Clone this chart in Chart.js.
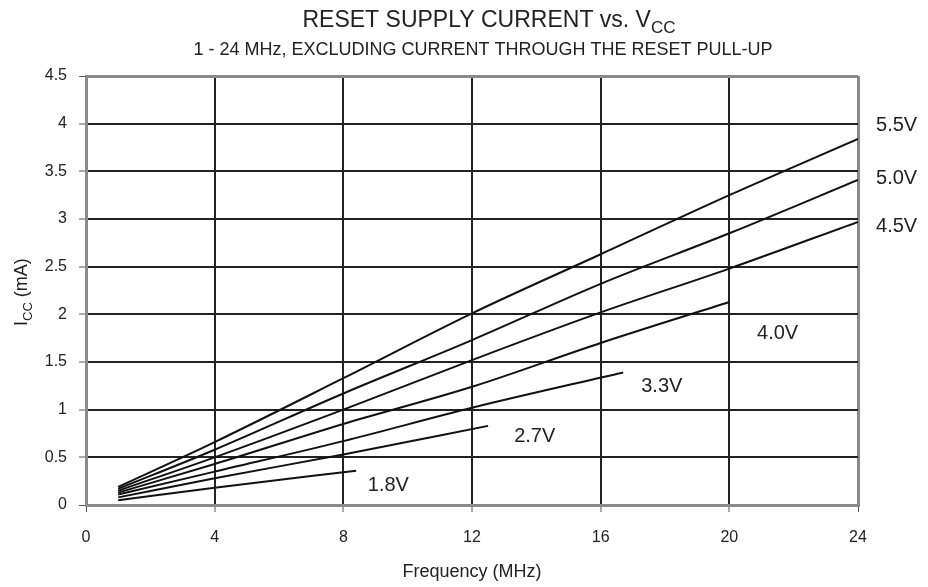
<!DOCTYPE html>
<html>
<head>
<meta charset="utf-8">
<script src="https://cdn.jsdelivr.net/npm/chart.js@4/dist/chart.umd.min.js"></script>
<style>
  html, body { margin: 0; padding: 0; background: #fff; }
  #wrap { width: 928px; height: 587px; position: relative; }
</style>
</head>
<body>
<div id="wrap"><canvas id="icc"></canvas></div>
<script>
// supply voltage curves: frequency (MHz) and current (mA)
const vccLabels = ["5.5V", "5.0V", "4.5V", "4.0V", "3.3V", "2.7V", "1.8V"];

const freq55 = [1, 4, 8, 12, 16, 20, 24];
const icc55 = [0.19, 0.66, 1.33, 2.01, 2.63, 3.25, 3.84];
const freq50 = [1, 4, 8, 12, 16, 20, 24];
const icc50 = [0.17, 0.58, 1.17, 1.73, 2.32, 2.85, 3.41];
const freq45 = [1, 4, 8, 12, 16, 20, 24];
const icc45 = [0.15, 0.50, 1.00, 1.52, 2.02, 2.48, 2.97];
const freq40 = [1, 4, 8, 12, 16, 20];
const icc40 = [0.13, 0.43, 0.85, 1.24, 1.70, 2.13];
const freq33 = [1, 4, 8, 12, 16.7];
const icc33 = [0.11, 0.35, 0.67, 1.02, 1.39];
const freq27 = [1, 4, 8, 12.5];
const icc27 = [0.08, 0.28, 0.53, 0.83];
const freq18 = [1, 4, 8.4];
const icc18 = [0.05, 0.18, 0.36];

// where each voltage tag sits, in axis units
const tagFreq = [25.2, 25.2, 25.2, 21.5, 17.9, 13.95, 9.4];
const tagIcc = [3.98, 3.42, 2.92, 1.80, 1.24, 0.72, 0.20];

const xTicks = [0, 4, 8, 12, 16, 20, 24];
const yTicks = [0, 0.5, 1, 1.5, 2, 2.5, 3, 3.5, 4, 4.5];

const curves = [
  [freq55, icc55], [freq50, icc50], [freq45, icc45], [freq40, icc40],
  [freq33, icc33], [freq27, icc27], [freq18, icc18]
];

const FONT = "'Liberation Sans', Arial, sans-serif";

const datasets = curves.map(([f, i], k) => ({
  label: vccLabels[k],
  data: f.map((x, n) => ({ x: x, y: i[n] })),
  borderColor: "#111",
  borderWidth: 2,
  pointRadius: 0,
  showLine: true,
  fill: false,
  cubicInterpolationMode: "monotone"
}));

// text with a trailing subscript, e.g. V + CC
function subText(ctx, main, sub, x, y, size, align) {
  ctx.font = size + "px " + FONT;
  const w1 = ctx.measureText(main).width;
  ctx.font = Math.round(size * 0.72) + "px " + FONT;
  const w2 = ctx.measureText(sub).width;
  let x0 = x;
  if (align === "center") x0 = x - (w1 + w2) / 2;
  ctx.textAlign = "left";
  ctx.textBaseline = "alphabetic";
  ctx.font = size + "px " + FONT;
  ctx.fillText(main, x0, y);
  ctx.font = Math.round(size * 0.72) + "px " + FONT;
  ctx.fillText(sub, x0 + w1, y + size * 0.26);
  return x0 + w1 + w2;
}

const textPlugin = {
  id: "textPlugin",
  afterDraw(chart) {
    const ctx = chart.ctx;
    const xs = chart.scales.x, ys = chart.scales.y;
    ctx.save();
    ctx.fillStyle = "#222";

    // titles
    subText(ctx, "RESET SUPPLY CURRENT vs. V", "CC", 489, 27, 23, "center");
    ctx.font = "18px " + FONT;
    ctx.textAlign = "center";
    ctx.textBaseline = "middle";
    ctx.fillText("1 - 24 MHz, EXCLUDING CURRENT THROUGH THE RESET PULL-UP", 483, 50);

    // axis titles
    ctx.font = "18px " + FONT;
    ctx.fillText("Frequency (MHz)", 472, 572);
    ctx.save();
    ctx.translate(27, 290);
    ctx.rotate(-Math.PI / 2);
    const end = subText(ctx, "I", "CC", -36, 0, 18, "left");
    ctx.font = "18px " + FONT;
    ctx.textAlign = "left";
    ctx.fillText(" (mA)", end, 0);
    ctx.restore();

    // voltage tags
    ctx.font = "20px " + FONT;
    ctx.textAlign = "center";
    ctx.textBaseline = "middle";
    vccLabels.forEach((t, k) => {
      ctx.fillText(t, xs.getPixelForValue(tagFreq[k]), ys.getPixelForValue(tagIcc[k]));
    });
    ctx.restore();
  }
};

const edgeGrid = (edges) => ({
  color: (c) => edges.includes(c.tick && c.tick.value) ? "#8a8a8a" : "#222",
  lineWidth: (c) => edges.includes(c.tick && c.tick.value) ? 3 : 2,
  tickColor: "#555",
  tickWidth: 1,
  tickLength: 7
});

new Chart(document.getElementById("icc"), {
  type: "scatter",
  data: { datasets },
  options: {
    responsive: true,
    maintainAspectRatio: false,
    animation: false,
    devicePixelRatio: 1,
    layout: { padding: { left: 0, right: 70, top: 76, bottom: 0 } },
    plugins: {
      legend: { display: false },
      title: { display: false },
      tooltip: { enabled: false }
    },
    scales: {
      x: {
        type: "linear",
        min: 0, max: 24,
        afterBuildTicks: (s) => { s.ticks = xTicks.map(v => ({ value: v })); },
        afterFit: (s) => { s.height = 82; },
        grid: edgeGrid([0, 24]),
        border: { display: true, color: "#8a8a8a", width: 3 },
        ticks: { color: "#222", font: { family: FONT, size: 16 }, padding: 16, callback: (v) => String(v) }
      },
      y: {
        type: "linear",
        min: 0, max: 4.5,
        afterBuildTicks: (s) => { s.ticks = yTicks.map(v => ({ value: v })); },
        afterFit: (s) => { s.width = 86; },
        grid: edgeGrid([0, 4.5]),
        border: { display: true, color: "#8a8a8a", width: 3 },
        ticks: { color: "#222", font: { family: FONT, size: 16 }, padding: 12, callback: (v) => String(v) }
      }
    }
  },
  plugins: [textPlugin]
});
</script>
</body>
</html>
